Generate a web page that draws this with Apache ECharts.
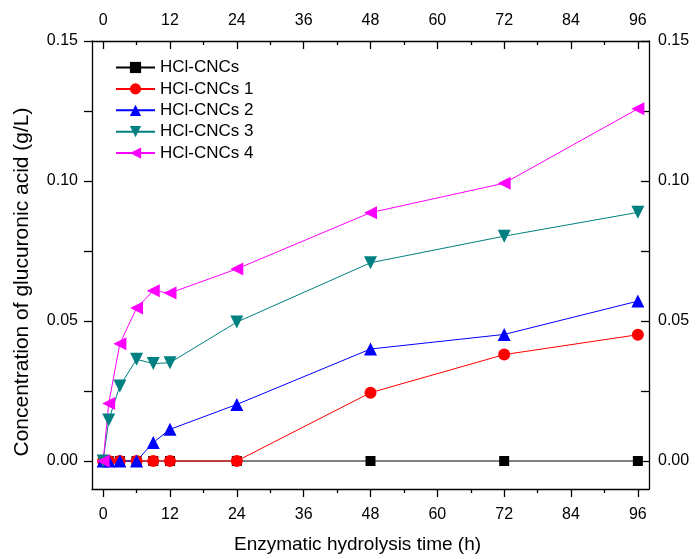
<!DOCTYPE html>
<html>
<head>
<meta charset="utf-8">
<script src="https://cdn.jsdelivr.net/npm/echarts@6/dist/echarts.min.js"></script>
<style>
  html, body { margin: 0; padding: 0; background: #fff; }
  #chart { width: 696px; height: 559px; }
</style>
</head>
<body>
<div id="chart"></div>
<script>
// Sampling times (h)
const hours = [0, 1, 3, 6, 9, 12, 24, 48, 72, 96];

// Glucuronic acid concentration (g/L) for each sample
const hclCNCs  = [0, 0, 0, 0, 0, 0, 0, 0, 0, 0];
const hclCNCs1 = [0, 0, 0, 0, 0, 0, 0, 0.0244, 0.0380, 0.0451];
const hclCNCs2 = [0, 0, 0, 0, 0.0066, 0.0113, 0.0202, 0.0400, 0.0452, 0.0571];
const hclCNCs3 = [0, 0.0146, 0.0268, 0.0363, 0.0348, 0.0351, 0.0496, 0.0708, 0.0803, 0.0888];
const hclCNCs4 = [0, 0.0205, 0.0419, 0.0546, 0.0608, 0.0600, 0.0686, 0.0887, 0.0992, 0.1258];

const seriesNames = ['HCl-CNCs', 'HCl-CNCs 1', 'HCl-CNCs 2', 'HCl-CNCs 3', 'HCl-CNCs 4'];

// Tick positions
const xMajorTicks = [0, 12, 24, 36, 48, 60, 72, 84, 96];
const xMinorTicks = [6, 18, 30, 42, 54, 66, 78, 90];
const yLabelTicks = [0, 0.05, 0.10, 0.15];
const yAllTicks = [0, 0.025, 0.05, 0.075, 0.10, 0.125, 0.15];

const FONT = 'Liberation Sans, Arial, sans-serif';
const X_RANGE = { min: -2, max: 98 };
const Y_RANGE = { min: -0.01, max: 0.15 };
const AXIS_LINE = { color: '#000', width: 1.3 };

function pairs(ys) { return hours.map((h, i) => [h, ys[i]]); }

function xAxisCfg(pos) {
  const top = pos === 'top';
  return {
    type: 'value', position: pos, ...X_RANGE,
    name: top ? '' : 'Enzymatic hydrolysis time (h)',
    nameLocation: 'middle', nameGap: 46,
    nameTextStyle: { fontFamily: FONT, fontSize: 19, color: '#000', padding: [0, 26, 0, 0] },
    axisLine: { show: true, onZero: false, lineStyle: AXIS_LINE },
    axisTick: { show: true, inside: top, length: 8, customValues: xMajorTicks, lineStyle: AXIS_LINE },
    axisLabel: { show: true, customValues: xMajorTicks, margin: top ? 12 : 18,
                 fontFamily: FONT, fontSize: 16, color: '#000' },
    splitLine: { show: false }
  };
}

// Short intermediate ticks on the time axes
function xMinorCfg(pos) {
  return {
    type: 'value', position: pos, ...X_RANGE,
    axisLine: { show: false, onZero: false },
    axisTick: { show: true, inside: pos === 'top', length: 4, customValues: xMinorTicks, lineStyle: AXIS_LINE },
    axisLabel: { show: false },
    splitLine: { show: false }
  };
}

function yAxisCfg(pos) {
  const left = pos === 'left';
  return {
    type: 'value', position: pos, ...Y_RANGE,
    name: left ? 'Concentration of glucuronic acid (g/L)' : '',
    nameLocation: 'middle', nameGap: 59,
    nameTextStyle: { fontFamily: FONT, fontSize: 21, color: '#000', padding: [0, 34, 0, 0] },
    axisLine: { show: true, onZero: false, lineStyle: AXIS_LINE },
    axisTick: { show: true, inside: !left, length: 8, customValues: yAllTicks, lineStyle: AXIS_LINE },
    axisLabel: { show: true, customValues: yLabelTicks, margin: left ? 14 : 9,
                 formatter: v => v.toFixed(2),
                 fontFamily: FONT, fontSize: 16, color: '#000' },
    splitLine: { show: false }
  };
}

function lineSeries(name, data, color, symbol, size, rotate) {
  return {
    name, type: 'line', data: pairs(data),
    xAxisIndex: 0, yAxisIndex: 0,
    symbol, symbolSize: size, symbolRotate: rotate || 0,
    showSymbol: true,
    lineStyle: { color, width: 1 },
    itemStyle: { color, borderWidth: 0 },
    emphasis: { disabled: true },
    animation: false
  };
}

const chart = echarts.init(document.getElementById('chart'), null, { renderer: 'canvas' });
chart.setOption({
  backgroundColor: '#fff',
  animation: false,
  grid: { left: 92, top: 41, right: 47, bottom: 68, containLabel: false },
  legend: {
    orient: 'vertical', left: 110, top: 54,
    itemWidth: 39, itemHeight: 14, itemGap: 4.4,
    textStyle: { fontFamily: FONT, fontSize: 17, lineHeight: 17, color: '#000' },
    data: seriesNames
  },
  xAxis: [xAxisCfg('bottom'), xAxisCfg('top'), xMinorCfg('bottom'), xMinorCfg('top')],
  yAxis: [yAxisCfg('left'), yAxisCfg('right')],
  series: [
    lineSeries(seriesNames[0], hclCNCs,  '#000000', 'rect', 10),
    lineSeries(seriesNames[1], hclCNCs1, '#ff0000', 'circle', 12),
    lineSeries(seriesNames[2], hclCNCs2, '#0000ff', 'triangle', 13),
    lineSeries(seriesNames[3], hclCNCs3, '#008080', 'triangle', 13, 180),
    lineSeries(seriesNames[4], hclCNCs4, '#ff00ff', 'triangle', 13, 90)
  ]
});
</script>
</body>
</html>
